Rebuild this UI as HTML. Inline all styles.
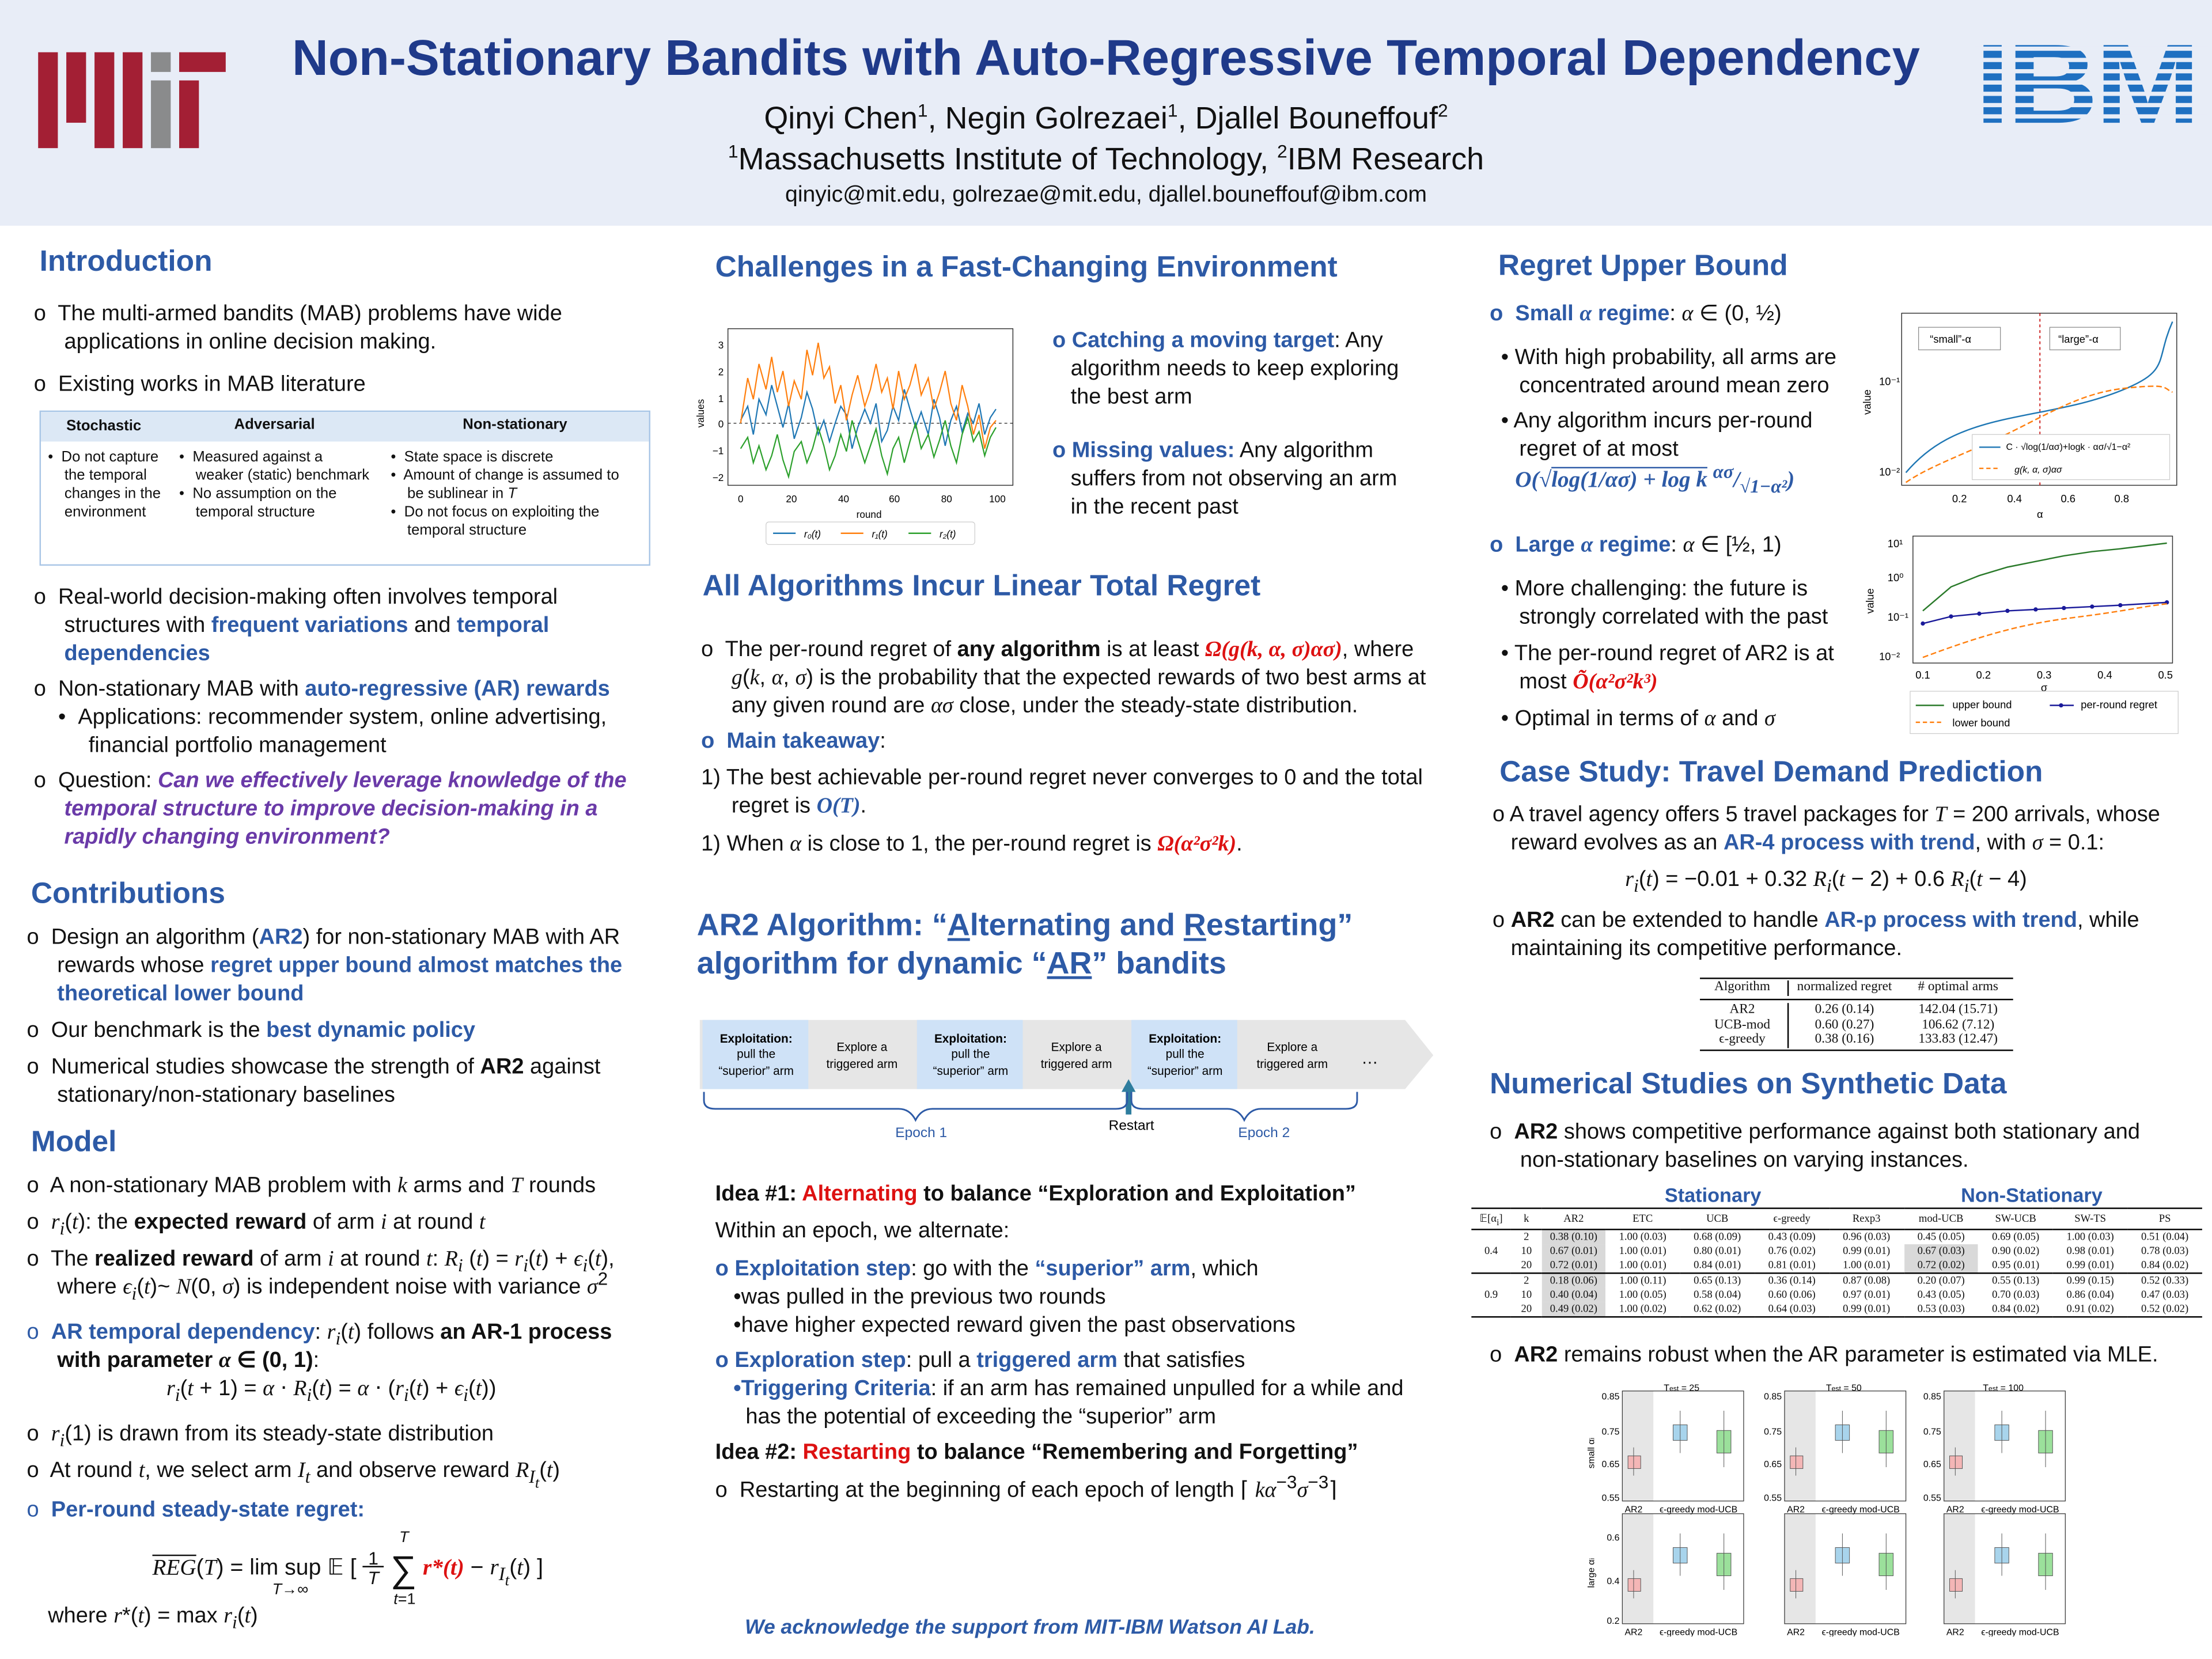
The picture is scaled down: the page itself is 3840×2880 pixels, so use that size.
<!DOCTYPE html>
<html><head><meta charset="utf-8"><style>
*{margin:0;padding:0;box-sizing:border-box}
html,body{width:3840px;height:2880px;overflow:hidden;background:#fff}
#p{position:absolute;left:0;top:0;width:1568px;height:1176px;transform:scale(2.449);transform-origin:0 0;font-family:"Liberation Sans",sans-serif;color:#111;font-size:15.5px}
.a{position:absolute;white-space:nowrap;line-height:20px}
.h{position:absolute;color:#2d5aa6;font-weight:bold;font-size:21px;white-space:nowrap}
.b{color:#2d5aa6;font-weight:bold}
.r{color:#d11;font-weight:bold}
.m{font-family:"Liberation Serif",serif;font-style:italic}
.sm{font-size:10.5px;line-height:13px}
sup,sub{line-height:0}
table.t{border-collapse:collapse;font-family:"Liberation Serif",serif;font-size:7.6px;line-height:10px}
table.t td{padding:0;text-align:center;white-space:nowrap}
</style></head><body><div id="p">
<div style="position:absolute;left:0;top:0;width:1568px;height:160px;background:#e8edf7"></div>
<svg style="position:absolute;left:27px;top:37px" width="135" height="70">
<rect x="0" y="0" width="14" height="68" fill="#a31f34"/><rect x="20" y="0" width="14" height="50" fill="#a31f34"/><rect x="40" y="0" width="14" height="68" fill="#a31f34"/><rect x="60" y="0" width="14" height="68" fill="#a31f34"/><rect x="80" y="0" width="14" height="14" fill="#8a8b8c"/><rect x="80" y="20" width="14" height="48" fill="#8a8b8c"/><rect x="100" y="0" width="33" height="14" fill="#a31f34"/><rect x="100" y="20" width="14" height="48" fill="#a31f34"/></svg>
<div class="a" style="left:0;width:1568px;text-align:center;top:19px;font-size:35.5px;line-height:44px;font-weight:bold;color:#1f3a8a">Non-Stationary Bandits with Auto-Regressive Temporal Dependency</div>
<div class="a" style="left:0;width:1568px;text-align:center;top:71px;font-size:22px;line-height:26px">Qinyi Chen<sup style="font-size:13px">1</sup>, Negin Golrezaei<sup style="font-size:13px">1</sup>, Djallel Bouneffouf<sup style="font-size:13px">2</sup></div>
<div class="a" style="left:0;width:1568px;text-align:center;top:100px;font-size:22px;line-height:26px"><sup style="font-size:13px">1</sup>Massachusetts Institute of Technology, <sup style="font-size:13px">2</sup>IBM Research</div>
<div class="a" style="left:0;width:1568px;text-align:center;top:129px;font-size:16px">qinyic@mit.edu, golrezae@mit.edu, djallel.bouneffouf@ibm.com</div>
<div class="a" style="left:1400px;top:18px;font-size:80px;line-height:84px;font-weight:bold;color:#1f70c1;letter-spacing:-2px;transform:scaleX(1.12);transform-origin:0 0">IBM</div>
<svg style="position:absolute;left:1400px;top:28px" width="165" height="66"><g fill="#e8edf7">
<rect x="0" y="5" width="165" height="3"/><rect x="0" y="13" width="165" height="3"/><rect x="0" y="21" width="165" height="3"/><rect x="0" y="29" width="165" height="3"/><rect x="0" y="37" width="165" height="3"/><rect x="0" y="45" width="165" height="3"/><rect x="0" y="53" width="165" height="3"/></g></svg>

<!-- LEFT -->
<div class="h" style="left:28px;top:174px">Introduction</div>
<div class="a" style="left:24px;top:213px">o&nbsp; The multi-armed bandits (MAB) problems have wide<br>&nbsp;&nbsp;&nbsp;&nbsp; applications in online decision making.</div>
<div class="a" style="left:24px;top:263px">o&nbsp; Existing works in MAB literature</div>
<div style="position:absolute;left:28px;top:291px;width:433px;height:110px;border:1px solid #a9c6e6">
<div style="height:21px;background:#dce8f5"></div></div>
<div class="a sm" style="left:47px;top:296px;font-weight:bold">Stochastic</div>
<div class="a sm" style="left:166px;top:295px;font-weight:bold">Adversarial</div>
<div class="a sm" style="left:328px;top:295px;font-weight:bold">Non-stationary</div>
<div class="a sm" style="left:34px;top:318px">•&nbsp; Do not capture<br>&nbsp;&nbsp;&nbsp; the temporal<br>&nbsp;&nbsp;&nbsp; changes in the<br>&nbsp;&nbsp;&nbsp; environment</div>
<div class="a sm" style="left:127px;top:318px">•&nbsp; Measured against a<br>&nbsp;&nbsp;&nbsp; weaker (static) benchmark<br>•&nbsp; No assumption on the<br>&nbsp;&nbsp;&nbsp; temporal structure</div>
<div class="a sm" style="left:277px;top:318px">•&nbsp; State space is discrete<br>•&nbsp; Amount of change is assumed to<br>&nbsp;&nbsp;&nbsp; be sublinear in <i>T</i><br>•&nbsp; Do not focus on exploiting the<br>&nbsp;&nbsp;&nbsp; temporal structure</div>
<div class="a" style="left:24px;top:414px">o&nbsp; Real-world decision-making often involves temporal<br>&nbsp;&nbsp;&nbsp;&nbsp; structures with <span class="b">frequent variations</span> and <span class="b">temporal</span><br>&nbsp;&nbsp;&nbsp;&nbsp; <span class="b">dependencies</span></div>
<div class="a" style="left:24px;top:479px">o&nbsp; Non-stationary MAB with <span class="b">auto-regressive (AR) rewards</span><br>&nbsp;&nbsp;&nbsp;&nbsp;• &nbsp;Applications: recommender system, online advertising,<br>&nbsp;&nbsp;&nbsp;&nbsp;&nbsp;&nbsp;&nbsp;&nbsp; financial portfolio management</div>
<div class="a" style="left:24px;top:544px">o&nbsp; Question: <b style="color:#6a3aa8;font-style:italic">Can we effectively leverage knowledge of the</b><br>&nbsp;&nbsp;&nbsp;&nbsp; <b style="color:#6a3aa8;font-style:italic">temporal structure to improve decision-making in a</b><br>&nbsp;&nbsp;&nbsp;&nbsp; <b style="color:#6a3aa8;font-style:italic">rapidly changing environment?</b></div>
<div class="h" style="left:22px;top:622px">Contributions</div>
<div class="a" style="left:19px;top:655px">o&nbsp; Design an algorithm (<span class="b">AR2</span>) for non-stationary MAB with AR<br>&nbsp;&nbsp;&nbsp;&nbsp; rewards whose <span class="b">regret upper bound almost matches the</span><br>&nbsp;&nbsp;&nbsp;&nbsp; <span class="b">theoretical lower bound</span></div>
<div class="a" style="left:19px;top:721px">o&nbsp; Our benchmark is the <span class="b">best dynamic policy</span></div>
<div class="a" style="left:19px;top:747px">o&nbsp; Numerical studies showcase the strength of <b>AR2</b> against<br>&nbsp;&nbsp;&nbsp;&nbsp; stationary/non-stationary baselines</div>
<div class="h" style="left:22px;top:798px">Model</div>
<div class="a" style="left:19px;top:831px">o&nbsp; A non-stationary MAB problem with <span class="m">k</span> arms and <span class="m">T</span> rounds</div>
<div class="a" style="left:19px;top:857px">o&nbsp; <span class="m">r<sub>i</sub></span>(<span class="m">t</span>): the <b>expected reward</b> of arm <span class="m">i</span> at round <span class="m">t</span></div>
<div class="a" style="left:19px;top:883px">o&nbsp; The <b>realized reward</b> of arm <span class="m">i</span> at round <span class="m">t</span>: <span class="m">R<sub>i</sub></span> (<span class="m">t</span>) = <span class="m">r<sub>i</sub></span>(<span class="m">t</span>) + <span class="m">ϵ<sub>i</sub></span>(<span class="m">t</span>),<br>&nbsp;&nbsp;&nbsp;&nbsp; where <span class="m">ϵ<sub>i</sub></span>(<span class="m">t</span>)~ <span class="m">N</span>(0, <span class="m">σ</span>) is independent noise with variance <span class="m">σ</span><sup>2</sup></div>
<div class="a" style="left:19px;top:935px"><span style="color:#2d5aa6">o</span>&nbsp; <span class="b">AR temporal dependency</span>: <span class="m">r<sub>i</sub></span>(<span class="m">t</span>) follows <b>an AR-1 process</b><br>&nbsp;&nbsp;&nbsp;&nbsp; <b>with parameter <span class="m">α</span> ∈ (0, 1)</b>:</div>
<div class="a" style="left:118px;top:975px"><span class="m">r<sub>i</sub></span>(<span class="m">t</span> + 1) = <span class="m">α</span> ⋅ <span class="m">R<sub>i</sub></span>(<span class="m">t</span>) = <span class="m">α</span> ⋅ (<span class="m">r<sub>i</sub></span>(<span class="m">t</span>) + <span class="m">ϵ<sub>i</sub></span>(<span class="m">t</span>))</div>
<div class="a" style="left:19px;top:1007px">o&nbsp; <span class="m">r<sub>i</sub></span>(1) is drawn from its steady-state distribution</div>
<div class="a" style="left:19px;top:1033px">o&nbsp; At round <span class="m">t</span>, we select arm <span class="m">I<sub>t</sub></span> and observe reward <span class="m">R<sub>I<sub>t</sub></sub></span>(<span class="m">t</span>)</div>
<div class="a" style="left:19px;top:1061px"><span style="color:#2d5aa6">o</span>&nbsp; <span class="b">Per-round steady-state regret:</span></div>
<div class="a" style="left:108px;top:1098px;font-size:16px"><span class="m" style="text-decoration:overline">REG</span>(<span class="m">T</span>) = lim sup 𝔼 [ <span style="display:inline-block;text-align:center;font-size:13px;line-height:14px;vertical-align:middle">1<br><span style="border-top:1px solid #000">&nbsp;<i>T</i>&nbsp;</span></span> <span style="font-size:26px;vertical-align:middle">∑</span> <span class="r m">r*(t)</span> − <span class="m">r<sub>I<sub>t</sub></sub></span>(<span class="m">t</span>) ]</div>
<div class="a" style="left:193px;top:1117px;font-size:11px"><i>T</i>→∞</div>
<div class="a" style="left:283px;top:1080px;font-size:11px"><i>T</i></div>
<div class="a" style="left:279px;top:1124px;font-size:11px"><i>t</i>=1</div>
<div class="a" style="left:34px;top:1136px">where <span class="m">r</span>*(<span class="m">t</span>) = max <span class="m">r<sub>i</sub></span>(<span class="m">t</span>)</div>

<!-- MIDDLE -->
<div class="h" style="left:507px;top:178px">Challenges in a Fast-Changing Environment</div>
<svg style="position:absolute;left:488px;top:228px" width="240" height="160" font-family="Liberation Sans" font-size="7">
<rect x="28" y="5" width="202" height="111" fill="none" stroke="#333" stroke-width="0.6"/>
<line x1="28" y1="72" x2="230" y2="72" stroke="#333" stroke-dasharray="2,2" stroke-width="0.6"/>
<polyline fill="none" stroke="#1f77b4" stroke-width="0.9" points="37,70 42,60 46,80 50,55 55,66 59,45 63,60 67,75 71,58 75,83 80,68 84,50 88,62 92,80 96,70 100,85 104,72 108,60 112,66 116,90 120,75 125,62 129,72 133,58 137,85 141,77 145,60 149,70 153,48 157,62 161,75 165,64 170,80 174,55 178,68 182,88 186,70 190,60 194,78 198,65 202,72 206,58 210,80 214,68 218,62"/>
<polyline fill="none" stroke="#ff7f0e" stroke-width="0.9" points="37,72 42,40 46,55 50,30 55,48 59,25 63,50 67,35 71,60 75,42 80,55 84,20 88,38 92,15 96,40 100,32 104,58 108,45 112,70 116,52 120,38 125,60 129,48 133,30 137,50 141,40 145,62 149,35 153,55 157,45 161,30 165,52 170,40 174,62 178,50 182,35 186,58 190,70 194,45 198,60 202,80 206,66 210,90 214,75 218,70"/>
<polyline fill="none" stroke="#2ca02c" stroke-width="0.9" points="37,90 42,82 46,100 50,88 55,105 59,95 63,80 67,98 71,110 75,92 80,85 84,100 88,90 92,75 96,88 100,105 104,95 108,80 112,92 116,70 120,84 125,100 129,88 133,76 137,95 141,108 145,90 149,82 153,100 157,85 161,72 165,90 170,80 174,96 178,84 182,70 186,88 190,100 194,80 198,68 202,85 206,78 210,95 214,82 218,75"/>
<g text-anchor="end"><text x="25" y="19">3</text><text x="25" y="38">2</text><text x="25" y="57">1</text><text x="25" y="75">0</text><text x="25" y="94">−1</text><text x="25" y="113">−2</text></g>
<g text-anchor="middle"><text x="37" y="128">0</text><text x="73" y="128">20</text><text x="110" y="128">40</text><text x="146" y="128">60</text><text x="183" y="128">80</text><text x="219" y="128">100</text><text x="128" y="139">round</text></g>
<text transform="translate(11,65) rotate(-90)" text-anchor="middle">values</text>
<rect x="55" y="142" width="148" height="16" fill="#fff" stroke="#ccc" stroke-width="0.5" rx="2"/>
<line x1="60" y1="150" x2="76" y2="150" stroke="#1f77b4"/><text x="82" y="153" font-style="italic">r₀(t)</text>
<line x1="108" y1="150" x2="124" y2="150" stroke="#ff7f0e"/><text x="130" y="153" font-style="italic">r₁(t)</text>
<line x1="156" y1="150" x2="172" y2="150" stroke="#2ca02c"/><text x="178" y="153" font-style="italic">r₂(t)</text></svg>
<div class="a" style="left:746px;top:232px"><span class="b">o</span> <span class="b">Catching a moving target</span>: Any<br>&nbsp;&nbsp; algorithm needs to keep exploring<br>&nbsp;&nbsp; the best arm</div>
<div class="a" style="left:746px;top:310px"><span class="b">o</span> <span class="b">Missing values:</span> Any algorithm<br>&nbsp;&nbsp; suffers from not observing an arm<br>&nbsp;&nbsp; in the recent past</div>
<div class="h" style="left:498px;top:404px">All Algorithms Incur Linear Total Regret</div>
<div class="a" style="left:497px;top:451px">o&nbsp; The per-round regret of <b>any algorithm</b> is at least <span class="r m">Ω(g(k, α, σ)ασ)</span>, where<br>&nbsp;&nbsp;&nbsp;&nbsp; <span class="m">g</span>(<span class="m">k</span>, <span class="m">α</span>, <span class="m">σ</span>) is the probability that the expected rewards of two best arms at<br>&nbsp;&nbsp;&nbsp;&nbsp; any given round are <span class="m">ασ</span> close, under the steady-state distribution.</div>
<div class="a" style="left:497px;top:516px"><span class="b">o&nbsp; Main takeaway</span>:</div>
<div class="a" style="left:497px;top:542px">1) The best achievable per-round regret never converges to 0 and the total<br>&nbsp;&nbsp;&nbsp;&nbsp; regret is <span class="b m">O(T)</span>.</div>
<div class="a" style="left:497px;top:589px">1) When <span class="m">α</span> is close to 1, the per-round regret is <span class="r m">Ω(α²σ²k)</span>.</div>
<div class="h" style="left:494px;top:642px;font-size:22px;line-height:27px">AR2 Algorithm: “<u>A</u>lternating and <u>R</u>estarting”<br>algorithm for dynamic “<u>AR</u>” bandits</div>
<svg style="position:absolute;left:496px;top:720px" width="525" height="95" font-family="Liberation Sans" font-size="8.5" text-anchor="middle">
<polygon points="0,3 500,3 520,28 500,52 0,52" fill="#e6e6e6"/>
<rect x="2" y="3" width="75" height="49" fill="#cfe2f7"/><rect x="154" y="3" width="75" height="49" fill="#cfe2f7"/><rect x="306" y="3" width="75" height="49" fill="#cfe2f7"/>
<g font-weight="bold"><text x="40" y="19">Exploitation:</text><text x="192" y="19">Exploitation:</text><text x="344" y="19">Exploitation:</text></g>
<text x="40" y="30">pull the</text><text x="40" y="42">“superior” arm</text>
<text x="192" y="30">pull the</text><text x="192" y="42">“superior” arm</text>
<text x="344" y="30">pull the</text><text x="344" y="42">“superior” arm</text>
<text x="115" y="25">Explore a</text><text x="115" y="37">triggered arm</text>
<text x="267" y="25">Explore a</text><text x="267" y="37">triggered arm</text>
<text x="420" y="25">Explore a</text><text x="420" y="37">triggered arm</text>
<text x="475" y="34" font-size="12">…</text>
<polygon points="304,45 299,54 302,54 302,70 306,70 306,54 309,54" fill="#2e7d9e"/>
<path d="M3,54 v6 q0,6 8,6 h130 q8,0 12,8 q4,-8 12,-8 h130 q8,0 8,-6 v-6" fill="none" stroke="#2d5aa6" stroke-width="1.2"/>
<path d="M306,54 v6 q0,6 8,6 h60 q8,0 12,8 q4,-8 12,-8 h60 q8,0 8,-6 v-6" fill="none" stroke="#2d5aa6" stroke-width="1.2"/>
<text x="157" y="86" fill="#2d5aa6" font-size="10">Epoch 1</text><text x="306" y="81" font-size="10">Restart</text><text x="400" y="86" fill="#2d5aa6" font-size="10">Epoch 2</text></svg>
<div class="a" style="left:507px;top:837px"><b>Idea #1: <span style="color:#d11">Alternating</span> to balance “Exploration and Exploitation”</b></div>
<div class="a" style="left:507px;top:863px">Within an epoch, we alternate:</div>
<div class="a" style="left:507px;top:890px"><span class="b">o</span> <span class="b">Exploitation step</span>: go with the <span class="b">“superior” arm</span>, which<br>&nbsp;&nbsp; •was pulled in the previous two rounds<br>&nbsp;&nbsp; •have higher expected reward given the past observations</div>
<div class="a" style="left:507px;top:955px"><span class="b">o</span> <span class="b">Exploration step</span>: pull a <span class="b">triggered arm</span> that satisfies<br>&nbsp;&nbsp; <span class="b">•Triggering Criteria</span>: if an arm has remained unpulled for a while and<br>&nbsp;&nbsp;&nbsp;&nbsp; has the potential of exceeding the “superior” arm</div>
<div class="a" style="left:507px;top:1020px"><b>Idea #2: <span style="color:#d11">Restarting</span> to balance “Remembering and Forgetting”</b></div>
<div class="a" style="left:507px;top:1047px">o&nbsp; Restarting at the beginning of each epoch of length ⌈ <span class="m">kα</span><sup>−3</sup><span class="m">σ</span><sup>−3</sup>⌉</div>
<div class="a" style="left:528px;top:1144px;font-weight:bold;font-style:italic;color:#2d5aa6;font-size:14.5px">We acknowledge the support from MIT-IBM Watson AI Lab.</div>

<!-- RIGHT -->
<div class="h" style="left:1062px;top:177px">Regret Upper Bound</div>
<div class="a" style="left:1056px;top:213px"><span class="b">o&nbsp; Small <span class="m">α</span> regime</span>: <span class="m">α</span> ∈ (0, ½)</div>
<div class="a" style="left:1064px;top:244px">• With high probability, all arms are<br>&nbsp;&nbsp; concentrated around mean zero</div>
<div class="a" style="left:1064px;top:289px">• Any algorithm incurs per-round<br>&nbsp;&nbsp; regret of at most</div>
<div class="a" style="left:1074px;top:331px;font-size:16px" ><span class="b m">O(√<span style="text-decoration:overline">log(1/ασ) + log k</span> <sup>ασ</sup>/<sub>√1−α²</sub>)</span></div>
<div class="a" style="left:1056px;top:377px"><span class="b">o&nbsp; Large <span class="m">α</span> regime</span>: <span class="m">α</span> ∈ [½, 1)</div>
<div class="a" style="left:1064px;top:408px">• More challenging: the future is<br>&nbsp;&nbsp; strongly correlated with the past</div>
<div class="a" style="left:1064px;top:454px">• The per-round regret of AR2 is at<br>&nbsp;&nbsp; most <span class="r m">Õ(α²σ²k³)</span></div>
<div class="a" style="left:1064px;top:500px">• Optimal in terms of <span class="m">α</span> and <span class="m">σ</span></div>
<svg style="position:absolute;left:1318px;top:220px" width="230" height="150" font-family="Liberation Sans" font-size="7.5">
<rect x="30" y="2" width="195" height="122" fill="none" stroke="#333" stroke-width="0.6"/>
<line x1="128" y1="2" x2="128" y2="124" stroke="#c22" stroke-dasharray="2,2" stroke-width="0.8"/>
<rect x="42" y="12" width="58" height="16" fill="#fff" stroke="#888" stroke-width="0.5"/><text x="50" y="23">“small”-α</text>
<rect x="135" y="12" width="50" height="16" fill="#fff" stroke="#888" stroke-width="0.5"/><text x="141" y="23">“large”-α</text>
<path d="M33,115 C50,95 70,85 100,78 S160,68 190,55 S210,35 222,8" fill="none" stroke="#1f77b4" stroke-width="1"/>
<path d="M33,122 C50,110 80,100 110,85 S160,58 190,55 S215,55 222,58" fill="none" stroke="#ff7f0e" stroke-dasharray="4,2" stroke-width="1"/>
<rect x="80" y="88" width="140" height="32" fill="#fff" stroke="#ccc" stroke-width="0.5"/>
<line x1="85" y1="97" x2="100" y2="97" stroke="#1f77b4"/><text x="104" y="99" font-size="6.5">C · √log(1/ασ)+logk · ασ/√1−α²</text>
<line x1="85" y1="112" x2="100" y2="112" stroke="#ff7f0e" stroke-dasharray="3,2"/><text x="110" y="115" font-size="6.5" font-style="italic">g(k, α, σ)ασ</text>
<text x="14" y="53">10⁻¹</text><text x="14" y="117">10⁻²</text>
<g text-anchor="middle"><text x="71" y="136">0.2</text><text x="110" y="136">0.4</text><text x="148" y="136">0.6</text><text x="186" y="136">0.8</text><text x="128" y="147">α</text></g>
<text transform="translate(8,65) rotate(-90)" text-anchor="middle">value</text></svg>
<svg style="position:absolute;left:1318px;top:378px" width="230" height="145" font-family="Liberation Sans" font-size="7.5">
<rect x="38" y="2" width="184" height="90" fill="none" stroke="#333" stroke-width="0.6"/>
<polyline fill="none" stroke="#2a7a2a" stroke-width="1" points="45,55 65,38 85,30 105,24 125,20 145,16 165,13 185,11 218,7"/>
<polyline fill="none" stroke="#1a1a9a" stroke-width="1" points="45,64 65,59 85,57 105,55 125,54 145,53 165,52 185,51 218,49"/>
<g fill="#1a1a9a"><circle cx="45" cy="64" r="1.5"/><circle cx="65" cy="59" r="1.5"/><circle cx="85" cy="57" r="1.5"/><circle cx="105" cy="55" r="1.5"/><circle cx="125" cy="54" r="1.5"/><circle cx="145" cy="53" r="1.5"/><circle cx="165" cy="52" r="1.5"/><circle cx="185" cy="51" r="1.5"/><circle cx="218" cy="49" r="1.5"/></g>
<path d="M45,88 C80,75 110,65 150,60 S200,52 218,50" fill="none" stroke="#ff7f0e" stroke-dasharray="4,2" stroke-width="1"/>
<text x="20" y="10">10¹</text><text x="20" y="34">10⁰</text><text x="20" y="62">10⁻¹</text><text x="14" y="90">10⁻²</text>
<g text-anchor="middle"><text x="45" y="103">0.1</text><text x="88" y="103">0.2</text><text x="131" y="103">0.3</text><text x="174" y="103">0.4</text><text x="217" y="103">0.5</text><text x="131" y="112">σ</text></g>
<text transform="translate(10,48) rotate(-90)" text-anchor="middle">value</text>
<rect x="36" y="112" width="190" height="30" fill="#fff" stroke="#ccc" stroke-width="0.5"/>
<line x1="40" y1="122" x2="60" y2="122" stroke="#2a7a2a"/><text x="66" y="124">upper bound</text>
<line x1="135" y1="122" x2="152" y2="122" stroke="#1a1a9a"/><circle cx="143" cy="122" r="1.5" fill="#1a1a9a"/><text x="157" y="124">per-round regret</text>
<line x1="40" y1="134" x2="60" y2="134" stroke="#ff7f0e" stroke-dasharray="3,2"/><text x="66" y="137">lower bound</text></svg>
<div class="h" style="left:1063px;top:536px">Case Study: Travel Demand Prediction</div>
<div class="a" style="left:1058px;top:568px">o A travel agency offers 5 travel packages for <span class="m">T</span> = 200 arrivals, whose<br>&nbsp;&nbsp; reward evolves as an <span class="b">AR-4 process with trend</span>, with <span class="m">σ</span> = 0.1:</div>
<div class="a" style="left:1152px;top:614px"><span class="m">r<sub>i</sub></span>(<span class="m">t</span>) = −0.01 + 0.32 <span class="m">R<sub>i</sub></span>(<span class="m">t</span> − 2) + 0.6 <span class="m">R<sub>i</sub></span>(<span class="m">t</span> − 4)</div>
<div class="a" style="left:1058px;top:643px">o <b>AR2</b> can be extended to handle <span class="b">AR-p process with trend</span>, while<br>&nbsp;&nbsp; maintaining its competitive performance.</div>
<div style="position:absolute;left:1205px;top:693px;width:222px;height:52px;border-top:1px solid #000;border-bottom:1px solid #000;font-family:'Liberation Serif',serif;font-size:9.5px;line-height:10.5px">
<div style="position:absolute;left:0;top:1px;width:60px;text-align:center">Algorithm</div><div style="position:absolute;left:62px;top:1px;width:80px;text-align:center;border-left:1px solid #000">normalized regret</div><div style="position:absolute;left:143px;top:1px;width:80px;text-align:center"># optimal arms</div>
<div style="position:absolute;left:0;top:14px;width:222px;border-top:1px solid #000"></div>
<div style="position:absolute;left:0;top:17px;width:60px;text-align:center">AR2<br>UCB-mod<br>ϵ-greedy</div><div style="position:absolute;left:62px;top:17px;width:80px;text-align:center;border-left:1px solid #000">0.26 (0.14)<br>0.60 (0.27)<br>0.38 (0.16)</div><div style="position:absolute;left:143px;top:17px;width:80px;text-align:center">142.04 (15.71)<br>106.62 (7.12)<br>133.83 (12.47)</div></div>
<div class="h" style="left:1056px;top:757px">Numerical Studies on Synthetic Data</div>
<div class="a" style="left:1056px;top:793px">o&nbsp; <b>AR2</b> shows competitive performance against both stationary and<br>&nbsp;&nbsp;&nbsp;&nbsp; non-stationary baselines on varying instances.</div>
<div class="a" style="left:1180px;top:837px;color:#2d5aa6;font-weight:bold;font-size:14px">Stationary</div>
<div class="a" style="left:1390px;top:837px;color:#2d5aa6;font-weight:bold;font-size:14px">Non-Stationary</div>
<table class="t" style="position:absolute;left:1043px;top:856px;width:518px;border-top:1px solid #000;border-bottom:1px solid #000">
<tr style="border-bottom:1px solid #000;height:15px"><td style="width:28px">𝔼[α<sub>i</sub>]</td><td style="width:22px">k</td><td style="width:45px">AR2</td><td>ETC</td><td>UCB</td><td>ϵ-greedy</td><td>Rexp3</td><td>mod-UCB</td><td>SW-UCB</td><td>SW-TS</td><td>PS</td></tr>
<tr><td rowspan="3">0.4</td><td>2</td><td style="background:#d9d9d9">0.38 (0.10)</td><td>1.00 (0.03)</td><td>0.68 (0.09)</td><td>0.43 (0.09)</td><td>0.96 (0.03)</td><td>0.45 (0.05)</td><td>0.69 (0.05)</td><td>1.00 (0.03)</td><td>0.51 (0.04)</td></tr>
<tr><td>10</td><td style="background:#d9d9d9">0.67 (0.01)</td><td>1.00 (0.01)</td><td>0.80 (0.01)</td><td>0.76 (0.02)</td><td>0.99 (0.01)</td><td style="background:#d9d9d9">0.67 (0.03)</td><td>0.90 (0.02)</td><td>0.98 (0.01)</td><td>0.78 (0.03)</td></tr>
<tr style="border-bottom:1px solid #000"><td>20</td><td style="background:#d9d9d9">0.72 (0.01)</td><td>1.00 (0.01)</td><td>0.84 (0.01)</td><td>0.81 (0.01)</td><td>1.00 (0.01)</td><td style="background:#d9d9d9">0.72 (0.02)</td><td>0.95 (0.01)</td><td>0.99 (0.01)</td><td>0.84 (0.02)</td></tr>
<tr><td rowspan="3">0.9</td><td>2</td><td style="background:#d9d9d9">0.18 (0.06)</td><td>1.00 (0.11)</td><td>0.65 (0.13)</td><td>0.36 (0.14)</td><td>0.87 (0.08)</td><td>0.20 (0.07)</td><td>0.55 (0.13)</td><td>0.99 (0.15)</td><td>0.52 (0.33)</td></tr>
<tr><td>10</td><td style="background:#d9d9d9">0.40 (0.04)</td><td>1.00 (0.05)</td><td>0.58 (0.04)</td><td>0.60 (0.06)</td><td>0.97 (0.01)</td><td>0.43 (0.05)</td><td>0.70 (0.03)</td><td>0.86 (0.04)</td><td>0.47 (0.03)</td></tr>
<tr><td>20</td><td style="background:#d9d9d9">0.49 (0.02)</td><td>1.00 (0.02)</td><td>0.62 (0.02)</td><td>0.64 (0.03)</td><td>0.99 (0.01)</td><td>0.53 (0.03)</td><td>0.84 (0.02)</td><td>0.91 (0.02)</td><td>0.52 (0.02)</td></tr>
</table>
<div class="a" style="left:1056px;top:951px">o&nbsp; <b>AR2</b> remains robust when the AR parameter is estimated via MLE.</div>
<svg style="position:absolute;left:1122px;top:980px" width="445" height="180" font-family="Liberation Sans" font-size="6.5">
<defs><g id="bx">
<rect x="28" y="6" width="22" height="78" fill="#e6e6e6"/>
<rect x="28" y="6" width="86" height="78" fill="none" stroke="#333" stroke-width="0.5"/>
<rect x="32" y="52" width="9" height="9" fill="#f4b6b6" stroke="#555" stroke-width="0.4"/><line x1="36" y1="46" x2="36" y2="66" stroke="#555" stroke-width="0.4"/>
<rect x="64" y="30" width="10" height="11" fill="#a8d4ec" stroke="#555" stroke-width="0.4"/><line x1="69" y1="20" x2="69" y2="50" stroke="#555" stroke-width="0.4"/>
<rect x="95" y="34" width="10" height="16" fill="#9be09b" stroke="#555" stroke-width="0.4"/><line x1="100" y1="20" x2="100" y2="60" stroke="#555" stroke-width="0.4"/>
<text x="36" y="92" text-anchor="middle">AR2</text><text x="82" y="92" text-anchor="middle">ϵ-greedy mod-UCB</text>
</g></defs>
<use href="#bx" x="0" y="0"/><use href="#bx" x="115" y="0"/><use href="#bx" x="228" y="0"/>
<use href="#bx" x="0" y="87"/><use href="#bx" x="115" y="87"/><use href="#bx" x="228" y="87"/>
<text x="70" y="6" text-anchor="middle">T<tspan font-size="5">est</tspan> = 25</text><text x="185" y="6" text-anchor="middle">T<tspan font-size="5">est</tspan> = 50</text><text x="298" y="6" text-anchor="middle">T<tspan font-size="5">est</tspan> = 100</text>
<g text-anchor="end"><text x="26" y="12">0.85</text><text x="26" y="37">0.75</text><text x="26" y="60">0.65</text><text x="26" y="84">0.55</text><text x="26" y="112">0.6</text><text x="26" y="143">0.4</text><text x="26" y="171">0.2</text>
<text x="141" y="12">0.85</text><text x="141" y="37">0.75</text><text x="141" y="60">0.65</text><text x="141" y="84">0.55</text>
<text x="254" y="12">0.85</text><text x="254" y="37">0.75</text><text x="254" y="60">0.65</text><text x="254" y="84">0.55</text></g>
<text transform="translate(8,50) rotate(-90)" text-anchor="middle">small α<tspan font-size="5">i</tspan></text>
<text transform="translate(8,135) rotate(-90)" text-anchor="middle">large α<tspan font-size="5">i</tspan></text></svg>
</div></body></html>
